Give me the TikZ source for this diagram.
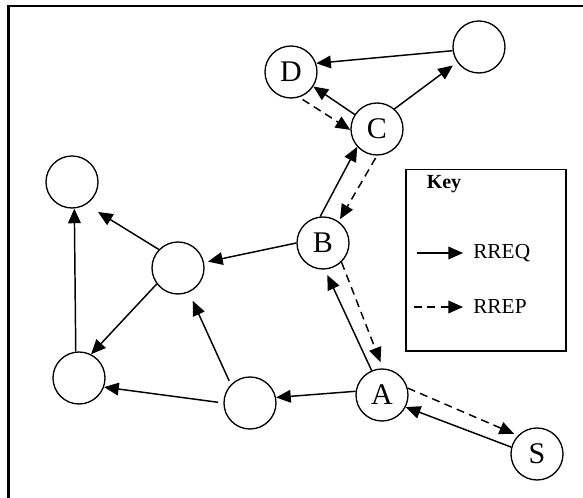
\documentclass[tikz,border=0pt]{standalone}
\usepackage{fontspec}
\setmainfont{Liberation Serif}
\usetikzlibrary{arrows.meta}

\tikzset{
  host/.style={draw, circle, line width=1pt, minimum size=39pt, inner sep=0pt, font=\fontsize{22.5}{24}\selectfont},
  rreq/.style={line width=1.1pt, -{Triangle[length=11pt,width=9.5pt]}},
  rrep/.style={rreq, dash pattern=on 6pt off 4pt},
  keytext/.style={anchor=west, inner sep=0pt, font=\fontsize{16}{18}\selectfont},
}

\begin{document}
\begin{tikzpicture}[x=0.75pt,y=-0.75pt]
        \useasboundingbox (0,0) rectangle (583,498);

        % Draw the frame
        \draw[line width=1.6pt] (8.5,498) -- (8.5,6) -- (583,6);

        % Place the hosts
        \node[host] (S) at (537,454) {S};
        \node[host] (A) at (382,395) {A};
        \node[host] (B) at (323,243) {B};
        \node[host] (C) at (377,129) {C};
        \node[host] (D) at (291,72) {D};
        \node[host] (hostTR) at (479,47) {};
        \node[host] (hostBM) at (250,403) {};
        \node[host] (hostM) at (178,268) {};
        \node[host] (hostBL) at (79,378) {};
        \node[host] (hostTL) at (72,182) {};

        % Route request flooding
        \draw[rreq] (S.165) -- (A.-27);
        \draw[rreq, shorten >=4.5pt] (A.113) -- (B.-86);
        \draw[rreq] (A.172) -- (hostBM.12);
        \draw[rreq] (B.96) -- (C.-138);
        \draw[rreq, shorten >=3pt] (B.180) -- (hostM.12);
        \draw[rreq] (C.147) -- (D.-33);
        \draw[rreq, shorten >=4pt] (C.49) -- (hostTR.-145);
        \draw[rreq] (hostTR.-172) -- (D.19);
        \draw[rreq, shorten <=4pt] (hostBM.180) -- (hostBL.-20);
        \draw[rreq, shorten <=3pt, shorten >=7pt] (hostBM.136) -- (hostM.-66);
        \draw[rreq] (hostM.-143) -- (hostBL.63);
        \draw[rreq, shorten >=10.5pt] (hostM.136) -- (hostTL.-58);
        \draw[rreq] (hostBL.97) -- (hostTL.-85);

        % Route reply back to the source
        \draw[rrep, shorten <=3pt] (D.-72) -- (C.182);
        \draw[rrep, shorten <=2pt, shorten >=2pt] (C.-90) -- (B.54);
        \draw[rrep, shorten >=5pt] (B.-46) -- (A.88);
        \draw[rrep, shorten >=3pt] (A.15) -- (S.136);

        % Draw the key
        \node[draw, line width=1pt, minimum width=120pt, minimum height=136pt, inner sep=0pt] (key) at (486,260.5) {};
        \node[font=\fontsize{15}{17}\selectfont\bfseries] (keytitle) at (444,184) {Key};
        \node[keytext] (reqlabel) at (473,253) {RREQ};
        \node[keytext] (replabel) at (473,307) {RREP};
        \coordinate (reqstart) at (417,253);
        \coordinate (repstart) at (414,307);
        \draw[rreq, shorten >=7.5pt] (reqstart) -- (reqlabel.west);
        \draw[rrep, shorten >=7.5pt] (repstart) -- (replabel.west);
\end{tikzpicture}
\end{document}
